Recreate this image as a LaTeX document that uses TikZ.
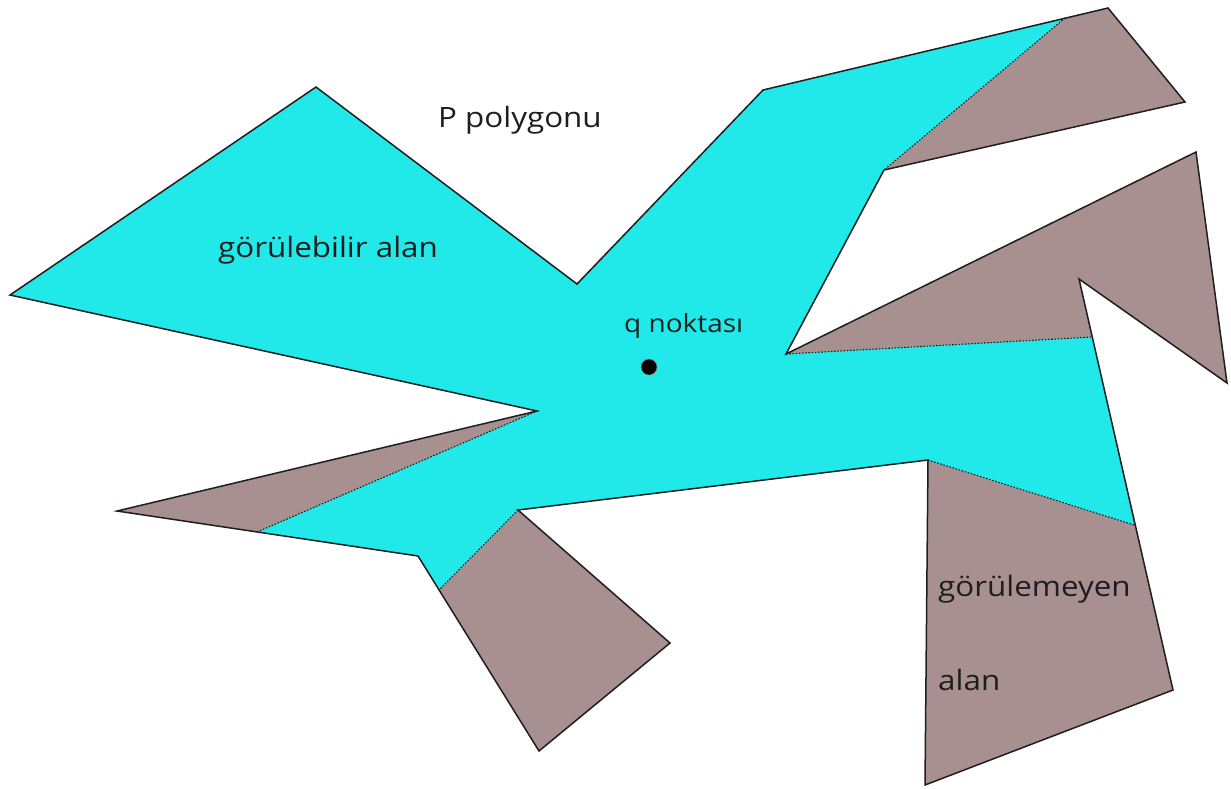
\documentclass[tikz,border=0pt]{standalone}
\usepackage{fontspec}
\setmainfont{Open Sans}[FakeStretch=1.12]
\definecolor{viscol}{RGB}{33,233,233}
\definecolor{hidcol}{RGB}{168,144,144}
\definecolor{linecol}{RGB}{30,30,30}
\begin{document}
\begin{tikzpicture}[x=1pt,y=-1pt,
  outline/.style={draw=linecol,line width=1.5pt,line join=miter},
  visline/.style={draw=linecol,dash pattern=on 1.6pt off 1.6pt,line width=1.1pt},
  lbl/.style={anchor=base west,inner sep=0pt,text=linecol,font=\fontsize{28}{32}\selectfont},
  smalllbl/.style={anchor=base west,inner sep=0pt,text=linecol,font=\fontsize{25}{30}\selectfont}]
\useasboundingbox (0,0) rectangle (1231,788);
% polygon vertices
\coordinate (p1) at (10,295);
\coordinate (p2) at (316,87);
\coordinate (p3) at (577,284);
\coordinate (p4) at (763,90);
\coordinate (p5) at (1108,8);
\coordinate (p6) at (1185,102);
\coordinate (p7) at (884,170);
\coordinate (p8) at (786,354);
\coordinate (p9) at (1196,152);
\coordinate (p10) at (1227,383);
\coordinate (p11) at (1079,279);
\coordinate (p12) at (1173,690);
\coordinate (p13) at (925,785);
\coordinate (p14) at (928,460);
\coordinate (p15) at (518,510);
\coordinate (p16) at (670,643);
\coordinate (p17) at (539,751);
\coordinate (p18) at (418,556);
\coordinate (p19) at (117,511);
\coordinate (p20) at (537,411);
% visibility cut points
\coordinate (a) at (1065,18);
\coordinate (b) at (1092,337);
\coordinate (c) at (1134,525);
\coordinate (d) at (439,590);
\coordinate (e) at (257,532);
% hidden (whole polygon)
\fill[hidcol] (p1)--(p2)--(p3)--(p4)--(p5)--(p6)--(p7)--(p8)--(p9)--(p10)--(p11)--(p12)--(p13)--(p14)--(p15)--(p16)--(p17)--(p18)--(p19)--(p20)--cycle;
% visible region
\fill[viscol] (p1)--(p2)--(p3)--(p4)--(a)--(p7)--(p8)--(b)--(c)--(p14)--(p15)--(d)--(p18)--(e)--(p20)--cycle;
% visibility boundaries
\draw[visline] (a)--(p7);
\draw[visline] (p8)--(b);
\draw[visline] (c)--(p14);
\draw[visline] (p15)--(d);
\draw[visline] (e)--(p20);
% outline
\draw[outline] (p1)--(p2)--(p3)--(p4)--(p5)--(p6)--(p7)--(p8)--(p9)--(p10)--(p11)--(p12)--(p13)--(p14)--(p15)--(p16)--(p17)--(p18)--(p19)--(p20)--cycle;
% point q
\node[circle,fill=black,draw=gray,line width=0.6pt,minimum size=16pt,inner sep=0pt] (q) at (649,367) {};
% labels
\node[lbl] (tP) at (438,127) {P polygonu};
\node[lbl] (tvis) at (218,257) {görülebilir alan};
\node[smalllbl] (tq) at (624,332) {q noktası};
\node[lbl] (thid1) at (938,596) {görülemeyen};
\node[lbl] (thid2) at (938,690) {alan};
\end{tikzpicture}
\end{document}
